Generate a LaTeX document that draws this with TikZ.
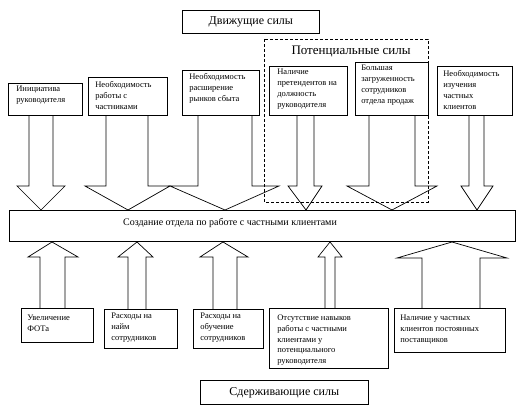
\documentclass[tikz,border=0pt]{standalone}
\usepackage{fontspec}
\setmainfont{Liberation Serif}
\begin{document}
\begin{tikzpicture}[x=1pt,y=-1pt, line width=0.7pt,
  box/.style={draw, fill=white, inner sep=0pt, anchor=north west},
  txt/.style={inner sep=0pt, anchor=north west, align=left, font=\fontsize{8.5}{11}\selectfont},
  btxt/.style={txt, font=\fontsize{8.5}{10.6}\selectfont},
  barrow/.style={draw, fill=white, line join=miter},
  title/.style={draw, fill=white, inner sep=0pt, font=\fontsize{12}{14}\selectfont},
  dashbox/.style={draw, dashed, dash pattern=on 3pt off 2pt}]
\useasboundingbox (0,0) rectangle (523,409);

% driving-force block arrows (down)
\draw[barrow] (29,115) -- (29,186) -- (17,186) -- (41,210) -- (65,186) -- (53,186) -- (53,115);
\draw[barrow] (106,115) -- (106,186) -- (85,186) -- (128,210) -- (170,186) -- (148,186) -- (148,115);
\draw[barrow] (198,115) -- (198,186) -- (170,186) -- (225,210) -- (279,186) -- (252,186) -- (252,115);
\draw[barrow] (297,115) -- (297,186) -- (288,186) -- (306,210) -- (322,186) -- (314,186) -- (314,115);
\draw[barrow] (369,115) -- (369,186) -- (347,186) -- (392,210) -- (437,186) -- (415,186) -- (415,115);
\draw[barrow] (469,115) -- (469,186) -- (461,186) -- (477,210) -- (493,186) -- (484,186) -- (484,115);

% restraining-force block arrows (up)
\draw[barrow] (40,308) -- (40,257) -- (28,257) -- (52,242) -- (78,257) -- (65,257) -- (65,308);
\draw[barrow] (128,309) -- (128,257) -- (118,257) -- (137,242) -- (153,257) -- (146,257) -- (146,309);
\draw[barrow] (213,309) -- (213,257) -- (200,257) -- (223,242) -- (248,257) -- (237,257) -- (237,309);
\draw[barrow] (325,308) -- (325,257) -- (318,257) -- (330,242) -- (342,257) -- (335,257) -- (335,308);
\draw[barrow] (422,308) -- (422,258) -- (397,258) -- (452,242) -- (507,258) -- (480,258) -- (480,308);

% titles
\node[title, minimum width=137, minimum height=23, anchor=north west] (drive) at (182,10) {Движущие силы};
\node[title, minimum width=168, minimum height=24, anchor=north west] (hold) at (200,380) {Сдерживающие силы};

% central box
\node[box, minimum width=506, minimum height=31, anchor=north west] (goal) at (9,210) {};
\node[font=\fontsize{10}{12}\selectfont, inner sep=0pt] (goaltxt) at (230,223) {Создание отдела по работе с частными клиентами};

% top boxes
\node[box, minimum width=74, minimum height=32] (t1) at (8,83) {};
\node[txt] at ([xshift=8pt,yshift=-3pt]t1.north west) {Инициатива\\руководителя};
\node[box, minimum width=79, minimum height=38] (t2) at (88,77) {};
\node[txt] at ([xshift=7pt,yshift=-4pt]t2.north west) {Необходимость\\работы с\\частниками};
\node[box, minimum width=77, minimum height=45] (t3) at (182,70) {};
\node[txt] at ([xshift=7pt,yshift=-3pt]t3.north west) {Необходимость\\расширение\\рынков сбыта};
\node[box, minimum width=78, minimum height=49] (t4) at (269,66) {};
\node[txt] at ([xshift=8pt,yshift=-3pt]t4.north west) {Наличие\\претендентов на\\должность\\руководителя};
\node[box, minimum width=73, minimum height=53] (t5) at (355,62) {};
\node[txt] at ([xshift=6pt,yshift=-3pt]t5.north west) {Большая\\загруженность\\сотрудников\\отдела продаж};
\node[box, minimum width=75, minimum height=49] (t6) at (437,66) {};
\node[txt] at ([xshift=6pt,yshift=-4pt]t6.north west) {Необходимость\\изучения\\частных\\клиентов};

% potential forces dashed frame
\draw[dashbox] (264,39) rectangle (428,202);
\node[font=\fontsize{13}{15}\selectfont, inner sep=0pt] (pot) at (351,52) {Потенциальные силы};

% bottom boxes
\node[box, minimum width=72, minimum height=34] (b1) at (21,308) {};
\node[btxt] at ([xshift=6pt,yshift=-7pt]b1.north west) {Увеличение\\ФОТа};
\node[box, minimum width=73, minimum height=39] (b2) at (104,309) {};
\node[btxt] at ([xshift=7pt,yshift=-4pt]b2.north west) {Расходы на\\найм\\сотрудников};
\node[box, minimum width=70, minimum height=39] (b3) at (193,309) {};
\node[btxt] at ([xshift=7pt,yshift=-4pt]b3.north west) {Расходы на\\обучение\\сотрудников};
\node[box, minimum width=119, minimum height=60] (b4) at (269,308) {};
\node[btxt] at ([xshift=8pt,yshift=-7pt]b4.north west) {Отсутствие навыков\\работы с частными\\клиентами у\\потенциального\\руководителя};
\node[box, minimum width=111, minimum height=44] (b5) at (394,308) {};
\node[btxt] at ([xshift=6pt,yshift=-7pt]b5.north west) {Наличие у частных\\клиентов  постоянных\\поставщиков};
\end{tikzpicture}
\end{document}
